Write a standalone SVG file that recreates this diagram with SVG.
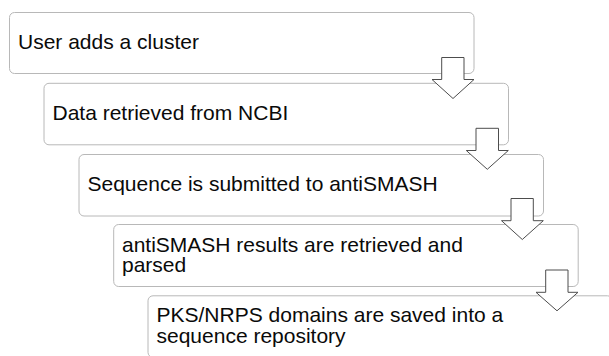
<svg xmlns="http://www.w3.org/2000/svg" width="609" height="356" viewBox="0 0 609 356">
<style>
.box{fill:#fff;stroke:#b8b8b8;stroke-width:1}
.lbl{font-family:"Liberation Sans",Arial,sans-serif;font-size:21px;fill:#0a0a0a}
.arr{fill:#fff;stroke:#4d4d4d;stroke-width:1;stroke-linejoin:miter}
</style>
<rect width="609" height="356" fill="#fff"/>
<g id="n1">
<rect class="box" x="9.5" y="12.5" width="464.5" height="61" rx="5"/>
<text class="lbl" x="18" y="49">User adds a cluster</text>
</g>
<g id="n2">
<rect class="box" x="44" y="83.3" width="464.5" height="61.5" rx="5"/>
<text class="lbl" x="52.5" y="120">Data retrieved from NCBI</text>
</g>
<g id="n3">
<rect class="box" x="79" y="154.5" width="464.5" height="61.5" rx="5"/>
<text class="lbl" x="87.5" y="190.7">Sequence is submitted to antiSMASH</text>
</g>
<g id="n4">
<rect class="box" x="113.7" y="224.5" width="464.5" height="62" rx="5"/>
<text class="lbl" x="122" y="251.5">antiSMASH results are retrieved and</text>
<text class="lbl" x="122" y="272.3">parsed</text>
</g>
<g id="n5">
<rect class="box" x="148" y="295.8" width="464.5" height="61.5" rx="5"/>
<text class="lbl" x="156.5" y="321.7">PKS/NRPS domains are saved into a</text>
<text class="lbl" x="156.5" y="342.6">sequence repository</text>
</g>
<g id="connectors">
<polygon class="arr" points="441.7,57.5 464,57.5 464,79.5 474,79.5 453,98.5 432,79.5 441.7,79.5"/>
<polygon class="arr" points="476,128.3 498.5,128.3 498.5,150.5 508.3,150.5 487.3,169.3 466.3,150.5 476,150.5"/>
<polygon class="arr" points="511,198.5 533.3,198.5 533.3,220.7 543.3,220.7 522.3,239.5 501.5,220.7 511,220.7"/>
<polygon class="arr" points="545.7,270 568,270 568,292.3 578,292.3 557,310.8 536,292.3 545.7,292.3"/>
</g>
</svg>
